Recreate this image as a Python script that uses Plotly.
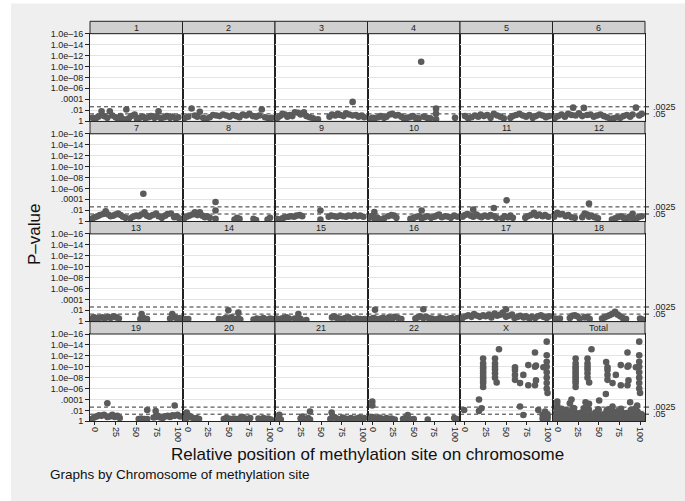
import math
import plotly.graph_objects as go

W, H = 685, 501

# ---------------- data: relative position (0-100) and -log10(p) per chromosome ----------------
pos_chr1 = [-3, 1, 4, 8, 11, 15, 18, 21, 25, 28, 31, 35, 38, 41, 44, 48, 51, 54, 58, 61, 65, 68, 72, 75, 77, 80, 84, 87, 91, 94, 98, 101]
nlp_chr1 = [0.6, 0.5, 0.8, 1.8, 0.9, 0.6, 1.8, 1.0, 0.7, 0.4, 0.9, 0.3, 2.1, 0.5, 0.9, 1.2, 0.3, 0.6, 0.8, 0.5, 0.7, 0.9, 0.6, 0.8, 1.8, 0.5, 0.7, 0.9, 0.6, 0.8, 0.5, 0.7]
pos_chr2 = [-3, 1, 5, 9, 12, 15, 19, 23, 27, 31, 35, 39, 43, 47, 51, 55, 59, 63, 67, 71, 75, 79, 83, 87, 90, 94, 98, 102]
nlp_chr2 = [0.6, 0.8, 2.3, 1.0, 0.8, 1.7, 0.6, 0.4, 0.7, 1.1, 1.0, 0.9, 1.2, 1.0, 0.8, 1.1, 0.9, 0.7, 1.2, 1.0, 1.3, 0.9, 0.8, 1.0, 2.1, 0.7, 0.5, 0.6]
pos_chr3 = [-3, 0, 3, 6, 9, 12, 15, 18, 22, 25, 29, 32, 36, 40, 46, 60, 63, 67, 70, 73, 77, 80, 84, 88, 88, 92, 95, 99, 102]
nlp_chr3 = [0.6, 0.9, 1.3, 1.2, 0.8, 1.1, 0.9, 1.6, 1.5, 1.2, 1.6, 0.9, 0.7, 0.5, 0.3, 0.8, 1.2, 1.0, 1.3, 1.1, 0.9, 1.4, 1.2, 3.5, 1.0, 1.1, 0.8, 1.0, 0.7]
pos_chr4 = [-3, 0, 3, 7, 10, 14, 17, 21, 24, 28, 31, 35, 38, 42, 45, 49, 52, 56, 59, 62, 66, 70, 77, 77, 77, 100]
nlp_chr4 = [0.4, 0.6, 0.5, 0.7, 0.9, 0.6, 0.8, 1.2, 1.3, 1.0, 1.1, 0.8, 0.5, 0.6, 0.7, 0.9, 0.6, 0.5, 10.85, 0.8, 0.6, 0.5, 2.3, 1.35, 0.3, 0.6]
pos_chr5 = [0, 4, 8, 12, 16, 19, 23, 27, 31, 35, 39, 43, 47, 55, 58, 62, 66, 70, 74, 78, 82, 86, 90, 94, 98, 102]
nlp_chr5 = [0.9, 0.5, 0.7, 1.0, 0.8, 1.2, 0.9, 1.1, 0.6, 1.3, 1.0, 0.8, 0.5, 0.6, 0.9, 1.1, 1.3, 1.0, 0.8, 1.1, 0.6, 0.9, 1.2, 1.0, 0.7, 0.9]
pos_chr6 = [-3, 1, 5, 9, 13, 17, 19, 22, 26, 30, 32, 36, 40, 44, 48, 52, 56, 60, 64, 68, 72, 76, 80, 84, 88, 91, 95, 99, 102]
nlp_chr6 = [0.6, 0.9, 1.2, 0.8, 1.3, 1.1, 2.45, 1.0, 1.4, 0.9, 2.4, 1.1, 1.2, 0.8, 1.0, 1.2, 0.9, 0.7, 0.4, 0.5, 0.7, 0.6, 0.9, 1.1, 0.8, 1.2, 2.45, 1.0, 1.3]
pos_chr7 = [-3, 0, 3, 6, 10, 13, 16, 19, 22, 25, 28, 31, 34, 37, 43, 46, 50, 53, 56, 58.6, 60, 63, 66, 70, 74, 77, 81, 85, 88, 92, 96, 99, 102]
nlp_chr7 = [0.5, 0.7, 0.9, 1.1, 1.3, 1.8, 1.2, 0.9, 1.0, 1.2, 1.4, 1.1, 0.8, 0.6, 0.5, 0.8, 1.0, 0.9, 1.2, 5.0, 1.6, 1.0, 0.8, 1.1, 1.4, 0.9, 0.6, 1.0, 1.3, 1.4, 0.7, 0.9, 0.5]
pos_chr8 = [-4, -1, 2, 6, 9, 12, 15, 18, 21, 24, 27, 34, 34, 34, 57, 60, 63, 80, 83, 97, 100]
nlp_chr8 = [0.5, 0.8, 1.0, 1.2, 1.6, 1.1, 1.6, 1.0, 0.7, 0.9, 0.6, 3.5, 1.95, 0.4, 0.3, 0.6, 0.4, 0.4, 0.2, 0.3, 0.6]
pos_chr9 = [-4, -1, 3, 6, 10, 13, 17, 20, 24, 27, 49, 49, 59, 62, 66, 69, 73, 76, 80, 83, 87, 90, 94, 97, 101]
nlp_chr9 = [0.4, 0.3, 0.5, 0.7, 0.8, 0.9, 0.8, 1.0, 1.1, 0.9, 1.95, 0.3, 0.8, 1.0, 0.9, 0.8, 1.0, 0.9, 0.8, 1.0, 0.9, 1.1, 0.9, 1.0, 0.8]
pos_chr10 = [-4, -1, 2.3, 2.3, 6, 10, 14, 19, 23, 26, 29, 46, 50, 53, 57, 59.6, 59.6, 63, 67, 71, 75, 78, 80.6, 84, 88, 92, 95, 99, 103]
nlp_chr10 = [0.6, 0.9, 1.65, 0.5, 0.6, 0.3, 0.5, 0.9, 1.1, 1.0, 0.6, 0.4, 0.6, 0.8, 0.9, 1.95, 0.5, 0.7, 0.9, 0.6, 0.8, 1.0, 1.2, 0.7, 0.9, 0.8, 0.6, 1.0, 0.8]
pos_chr11 = [-3, 0, 3, 7, 10, 10, 14, 17, 20, 24, 28, 31, 35, 35, 38, 45, 48, 50.5, 52, 55, 58, 73, 76, 80, 83.6, 87, 90, 94, 97, 101]
nlp_chr11 = [0.8, 1.1, 1.3, 1.0, 2.1, 0.8, 1.2, 0.9, 0.7, 1.0, 0.8, 1.1, 2.4, 0.9, 0.6, 0.5, 0.9, 3.8, 0.7, 1.0, 0.6, 0.6, 0.9, 1.1, 1.5, 1.0, 1.2, 0.9, 1.1, 0.8]
pos_chr12 = [-4, -0.2, 3, 6, 10, 13, 17, 21, 30, 33, 36, 38.2, 38.2, 41, 45, 49, 66, 70, 73, 77, 80, 84, 87, 91, 91, 95, 98, 102]
nlp_chr12 = [0.8, 1.5, 1.2, 1.3, 0.9, 1.1, 0.7, 0.6, 0.7, 1.4, 1.2, 3.2, 0.8, 1.0, 0.7, 0.5, 0.3, 0.5, 0.7, 0.9, 0.6, 0.4, 0.8, 1.35, 0.5, 0.3, 0.7, 0.9]
pos_chr13 = [-4, -1, 2, 5, 9, 12, 16, 19, 23, 26, 29, 55, 56.5, 59, 63, 91, 93.6, 97, 100, 103]
nlp_chr13 = [0.5, 0.7, 0.5, 0.6, 0.7, 0.5, 0.8, 0.6, 0.9, 0.7, 0.5, 0.4, 1.3, 0.6, 0.4, 0.5, 1.3, 0.7, 0.4, 0.6]
pos_chr14 = [-3, 1, 38, 42, 46, 49.5, 49.5, 53, 57, 61.6, 61.6, 64, 80, 84, 88, 92, 96, 100, 103]
nlp_chr14 = [0.4, 0.4, 0.4, 0.3, 0.6, 2.0, 0.5, 0.7, 0.4, 1.6, 0.6, 0.3, 0.3, 0.5, 0.4, 0.6, 0.3, 0.5, 0.4]
pos_chr15 = [-4, -1, 2, 5, 8, 11, 18, 22.3, 22.3, 25, 32, 63, 66, 69, 72, 76, 79, 83, 86, 90, 93, 97, 100, 103]
nlp_chr15 = [0.5, 0.3, 0.5, 0.6, 0.7, 0.5, 0.5, 1.3, 0.6, 0.4, 0.2, 0.7, 0.9, 0.6, 0.5, 0.4, 0.6, 0.7, 0.4, 0.3, 0.5, 0.4, 0.3, 0.4]
pos_chr16 = [-2, 1, 3.1, 3.1, 6, 10, 13, 17, 20, 24, 27, 31, 35, 52, 55, 58, 61.6, 61.6, 65, 68, 72, 75, 79, 82, 86, 89, 93, 96, 100, 103]
nlp_chr16 = [0.4, 0.6, 2.1, 0.5, 0.3, 0.5, 0.6, 0.4, 0.7, 0.5, 0.8, 0.6, 0.4, 0.5, 0.7, 0.9, 2.2, 0.6, 0.8, 0.6, 0.5, 0.3, 0.4, 0.6, 0.5, 0.3, 0.5, 0.6, 0.4, 0.6]
pos_chr17 = [-3, 1, 4, 8, 11, 15, 18, 22, 25, 29, 32, 36, 39, 43, 46, 49.7, 49.7, 53, 57, 60, 64, 67, 71, 74, 78, 81, 85, 88, 92, 95, 99, 102]
nlp_chr17 = [0.6, 0.9, 1.1, 0.8, 1.3, 1.0, 0.8, 1.1, 0.9, 1.2, 0.7, 1.4, 1.0, 1.2, 1.6, 2.2, 0.8, 1.0, 1.2, 0.6, 0.8, 1.0, 0.7, 0.9, 0.5, 0.8, 0.6, 0.9, 1.1, 0.8, 0.6, 0.9]
pos_chr18 = [-3, 0, 3, 15, 18, 21, 24, 27, 33, 36, 39, 54, 57, 60, 63, 66, 69.7, 73, 76, 79, 83, 100, 103]
nlp_chr18 = [0.5, 0.4, 0.5, 0.6, 1.0, 1.1, 0.9, 0.5, 0.7, 0.8, 0.4, 0.5, 0.7, 0.9, 1.1, 1.3, 1.7, 1.2, 0.9, 0.6, 0.4, 0.5, 0.3]
pos_chr19 = [-4, -1, 2, 5, 8, 11, 15, 15, 18, 21, 24, 27, 30, 53, 56, 60, 63.3, 63.3, 71, 73.5, 73.5, 76, 79, 82, 85, 88, 91, 94, 96.5, 96.5, 100, 103]
nlp_chr19 = [0.4, 0.7, 0.9, 1.1, 1.0, 1.2, 3.3, 0.8, 0.9, 1.2, 0.8, 1.0, 0.6, 0.4, 0.5, 0.4, 2.07, 0.4, 0.7, 1.9, 0.8, 1.0, 0.7, 0.6, 0.9, 1.0, 0.8, 1.1, 2.9, 1.0, 1.2, 0.9]
pos_chr20 = [-4, -0.9, -0.9, 2, 5, 8, 11, 14, 44, 47, 50, 53, 56, 59, 64, 67, 70, 73, 76, 86, 89, 92, 95, 98, 101]
nlp_chr20 = [0.6, 1.6, 0.6, 1.0, 0.7, 0.5, 0.6, 0.4, 0.4, 0.6, 0.5, 0.3, 0.5, 0.4, 0.6, 0.8, 0.5, 0.4, 0.6, 0.5, 0.3, 0.6, 0.4, 0.5, 0.3]
pos_chr21 = [-3, -0.8, -0.8, 1, 25, 27, 31, 34, 36.4, 36.4, 61, 62.6, 62.6, 66, 69, 72, 76, 79, 82, 86, 89, 92, 96, 99, 102]
nlp_chr21 = [0.3, 1.2, 0.4, 0.3, 0.5, 0.85, 0.3, 0.6, 1.8, 0.3, 0.4, 1.6, 0.6, 0.8, 0.5, 0.3, 0.7, 0.5, 0.4, 0.6, 0.3, 0.5, 0.7, 0.4, 0.6]
pos_chr22 = [-3, -0.2, -0.2, -0.2, 2, 5, 8, 11, 14, 17, 20, 23, 27, 37, 40, 42.7, 42.7, 46, 50, 67, 99, 102]
nlp_chr22 = [0.5, 3.6, 2.9, 0.8, 0.6, 0.4, 0.7, 0.5, 0.3, 0.6, 0.4, 0.5, 0.3, 0.4, 0.6, 1.16, 0.5, 0.3, 0.4, 0.3, 0.6, 0.4]
pos_chrX = [-1, 17, 17, 20,
            22, 22, 22, 22, 22, 22, 22, 22, 22, 22, 22,
            36.4, 36.4, 36.4, 36.4, 36.4, 36.4, 38.4, 41.2,
            60.6, 60.6, 60.6, 60.6, 66.7, 66.7, 70.7, 70.7, 76.7, 76.7,
            84.8, 84.8, 84.8, 86, 86, 88.8, 95,
            99, 99, 99, 99, 99, 99, 99, 99,
            94, 94, 97, 97, 97, 97, 97, 100, 100, 100, 100]
nlp_chrX = [2.07, 4.0, 1.9, 2.4,
            11.5, 10.6, 10.0, 9.7, 9.2, 8.8, 8.3, 7.9, 7.4, 7.0, 6.3,
            11.5, 10.6, 10.0, 9.5, 8.8, 8.0, 7.1, 13.2,
            9.9, 9.4, 8.5, 7.6, 7.0, 2.7, 8.5, 1.15, 10.3, 6.6,
            12.6, 10.0, 6.6, 10.2, 7.5, 2.07, 9.9,
            14.6, 12.1, 10.9, 10.0, 9.0, 8.0, 7.0, 6.0,
            0.5, 1.2, 0.2, 0.6, 1.0, 1.4, 1.8, 0.4, 0.9, 1.3, 5.2]

panel_names = [str(i) for i in range(1, 23)] + ["X", "Total"]
pos_lists = [pos_chr1, pos_chr2, pos_chr3, pos_chr4, pos_chr5, pos_chr6, pos_chr7, pos_chr8,
             pos_chr9, pos_chr10, pos_chr11, pos_chr12, pos_chr13, pos_chr14, pos_chr15, pos_chr16,
             pos_chr17, pos_chr18, pos_chr19, pos_chr20, pos_chr21, pos_chr22, pos_chrX]
nlp_lists = [nlp_chr1, nlp_chr2, nlp_chr3, nlp_chr4, nlp_chr5, nlp_chr6, nlp_chr7, nlp_chr8,
             nlp_chr9, nlp_chr10, nlp_chr11, nlp_chr12, nlp_chr13, nlp_chr14, nlp_chr15, nlp_chr16,
             nlp_chr17, nlp_chr18, nlp_chr19, nlp_chr20, nlp_chr21, nlp_chr22, nlp_chrX]
for a, b in zip(pos_lists, nlp_lists):
    assert len(a) == len(b)
# "Total" panel = all sites pooled
pos_total = [v for lst in pos_lists for v in lst]
nlp_total = [v for lst in nlp_lists for v in lst]
pos_lists.append(pos_total)
nlp_lists.append(nlp_total)

ytick_vals = [0, 2, 4, 6, 8, 10, 12, 14, 16]
ytick_text = ["1", ".01", ".0001", "1.0e–06", "1.0e–08", "1.0e–10", "1.0e–12", "1.0e–14", "1.0e–16"]
xtick_vals = [0, 25, 50, 75, 100]
ref_p = [0.0025, 0.05]
ref_text = [".0025", ".05"]

# ---------------- geometry (pixels) ----------------
PLOT_L, COL_W = 90.0, 92.5
ROW_TOP0, ROW_PITCH, PLOT_H, STRIP_H = 33.7, 100.1, 87.3, 12.4
AX = "#222222"
MARK = "#5b5b5b"


def fx(px):
    return px / W


def fy(py):
    return 1 - py / H


fig = go.Figure()
layout = dict(
    width=W, height=H, margin=dict(l=0, r=0, t=0, b=0, pad=0),
    paper_bgcolor="#efefef", plot_bgcolor="white", showlegend=False,
    font=dict(family="Liberation Sans, Arial, sans-serif", color=AX, size=9),
)
shapes = []
annotations = []

# white outer border of the graph image
shapes.append(dict(type="rect", xref="paper", yref="paper", x0=-0.01, x1=fx(11), y0=-0.01, y1=1.01,
                   fillcolor="white", line=dict(width=0), layer="above"))
shapes.append(dict(type="rect", xref="paper", yref="paper", x0=-0.01, x1=1.01, y0=fy(3.5), y1=1.01,
                   fillcolor="white", line=dict(width=0), layer="above"))

for k, name in enumerate(panel_names):
    r, c = divmod(k, 6)
    sfx = "" if k == 0 else str(k + 1)
    x0 = PLOT_L + COL_W * c
    x1 = x0 + COL_W
    ytop = ROW_TOP0 + ROW_PITCH * r
    ybot = ytop + PLOT_H
    bottom = (r == 3)
    left = (c == 0)

    layout["xaxis" + sfx] = dict(
        domain=[fx(x0), fx(x1)], range=[-6, 106], anchor="y" + sfx,
        showline=True, mirror=True, linecolor=AX, linewidth=1,
        showgrid=False, zeroline=False, fixedrange=True,
        tickvals=xtick_vals, showticklabels=bottom, ticks="outside" if bottom else "",
        ticklen=3, tickcolor=AX, tickangle=90, tickfont=dict(size=9, color=AX),
    )
    layout["yaxis" + sfx] = dict(
        domain=[fy(ybot), fy(ytop)], range=[0, 16], anchor="x" + sfx,
        showline=True, mirror=True, linecolor=AX, linewidth=1,
        showgrid=True, gridcolor="#e4e4e4", gridwidth=1, zeroline=False, fixedrange=True,
        tickvals=ytick_vals, ticktext=ytick_text, showticklabels=left,
        ticks="outside" if left else "", ticklen=4, tickcolor=AX, tickfont=dict(size=9, color=AX),
    )

    fig.add_trace(go.Scatter(
        x=pos_lists[k], y=nlp_lists[k], mode="markers",
        marker=dict(color=MARK, size=6.6, line=dict(width=0)),
        xaxis="x" + sfx, yaxis="y" + sfx, hoverinfo="skip", cliponaxis=True,
    ))

    # strip with panel label
    shapes.append(dict(type="rect", xref="paper", yref="paper",
                       x0=fx(x0), x1=fx(x1), y0=fy(ytop), y1=fy(ytop - STRIP_H),
                       fillcolor="#d0d0d0", line=dict(color=AX, width=1), layer="above"))
    annotations.append(dict(text=name, xref="paper", yref="paper",
                            x=fx((x0 + x1) / 2), y=fy(ytop - STRIP_H / 2),
                            xanchor="center", yanchor="middle", showarrow=False,
                            font=dict(size=9, color=AX)))

    # dashed reference lines at p = .0025 and .05
    for p in ref_p:
        yv = -math.log10(p)
        shapes.append(dict(type="line", xref=f"x{sfx} domain", yref="y" + sfx,
                           x0=0, x1=1, y0=yv, y1=yv,
                           line=dict(color="#333333", width=1, dash="4px,3px"), layer="below"))

    # right-hand labels for reference lines
    if c == 5:
        for p, t in zip(ref_p, ref_text):
            yv = -math.log10(p)
            shapes.append(dict(type="line", xref="paper", yref="y" + sfx,
                               x0=fx(x1), x1=fx(x1 + 4), y0=yv, y1=yv,
                               line=dict(color=AX, width=1), layer="above"))
            annotations.append(dict(text=t, xref="paper", yref="y" + sfx,
                                    x=fx(x1 + 5.5), y=yv, xanchor="left", yanchor="middle",
                                    showarrow=False, font=dict(size=9, color=AX)))

# titles and note
annotations.append(dict(text="P–value", xref="paper", yref="paper", x=fx(35), y=fy(235),
                        textangle=-90, xanchor="center", yanchor="middle", showarrow=False,
                        font=dict(size=17, color="#111111")))
annotations.append(dict(text="Relative position of methylation site on chromosome",
                        xref="paper", yref="paper", x=fx(367), y=fy(454),
                        xanchor="center", yanchor="middle", showarrow=False,
                        font=dict(size=17, color="#111111")))
annotations.append(dict(text="Graphs by Chromosome of methylation site",
                        xref="paper", yref="paper", x=fx(48), y=fy(474),
                        xanchor="left", yanchor="middle", showarrow=False,
                        font=dict(size=13.5, color="#111111")))

layout["shapes"] = shapes
layout["annotations"] = annotations
fig.update_layout(template="none")
fig.update_layout(**layout)
fig.write_html("out.html", config={"displayModeBar": False},
               post_script="document.body.style.margin='0';document.body.style.overflow='hidden';")
